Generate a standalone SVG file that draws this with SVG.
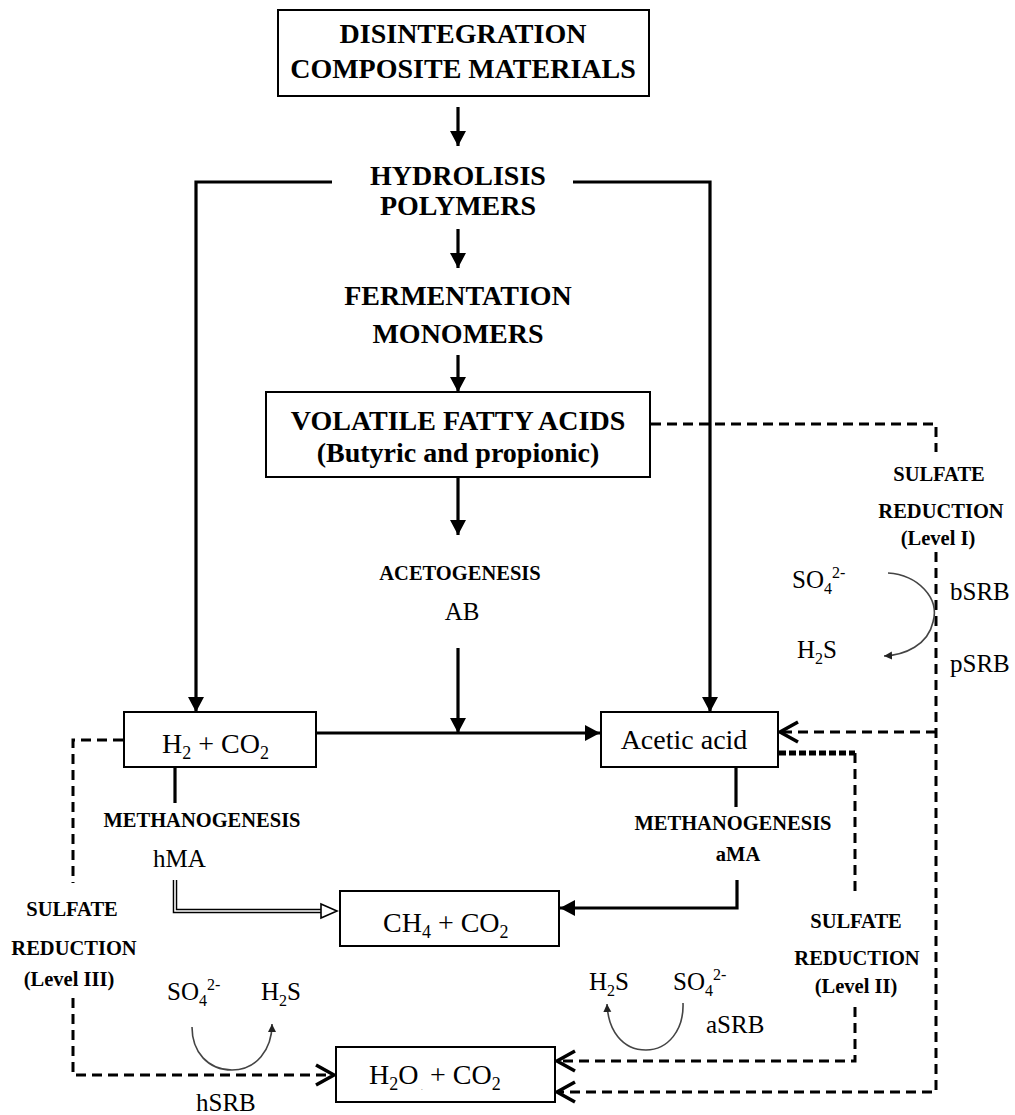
<svg xmlns="http://www.w3.org/2000/svg" width="1015" height="1115" viewBox="0 0 1015 1115">
<style>
text{font-family:"Liberation Serif","Times New Roman",serif;fill:#000}
.big{font-size:28px;font-weight:bold;text-anchor:middle}
.lab{font-size:20.5px;font-weight:bold;text-anchor:middle}
.reg{font-size:25px}
.box{fill:#fff;stroke:#000;stroke-width:2}
.solid{fill:none;stroke:#000;stroke-width:3.2}
.dash{fill:none;stroke:#000;stroke-width:3;stroke-dasharray:10 6}
.dots{fill:none;stroke:#000;stroke-width:5;stroke-dasharray:7 3}
.curve{fill:none;stroke:#444;stroke-width:1.6}
</style>
<defs>
<marker id="ah" markerUnits="userSpaceOnUse" markerWidth="16" markerHeight="16" refX="15" refY="8" orient="auto">
<path d="M0,0 L15,8 L0,16 z" fill="#000"/>
</marker>
<marker id="chev" markerUnits="userSpaceOnUse" markerWidth="24" markerHeight="26" refX="20" refY="12" orient="auto">
<path d="M2,2 L20,12 L2,22" fill="none" stroke="#000" stroke-width="3.5"/>
</marker>
<marker id="sm" markerUnits="userSpaceOnUse" markerWidth="10" markerHeight="10" refX="8" refY="5" orient="auto">
<path d="M0,1 L8,5 L0,9 z" fill="#222"/>
</marker>
</defs>

<g id="connectors">
<line class="solid" x1="458" y1="107" x2="458" y2="146" marker-end="url(#ah)"/>
<line class="solid" x1="458" y1="229" x2="458" y2="268" marker-end="url(#ah)"/>
<line class="solid" x1="458" y1="355" x2="458" y2="392" marker-end="url(#ah)"/>
<line class="solid" x1="458" y1="477" x2="458" y2="535" marker-end="url(#ah)"/>
<polyline class="solid" points="332,182 196,182 196,712" marker-end="url(#ah)"/>
<polyline class="solid" points="573,182 710,182 710,712" marker-end="url(#ah)"/>
<line class="solid" x1="317" y1="733" x2="600" y2="733" marker-start="url(#ah)" marker-end="url(#ah)"/>
<line class="solid" x1="458" y1="648" x2="458" y2="733" marker-end="url(#ah)"/>
<line class="solid" x1="175" y1="767" x2="175" y2="803" stroke-width="4"/>
<line class="solid" x1="736" y1="767" x2="736" y2="807" stroke-width="4"/>
<path d="M175,880 V911 H322" fill="none" stroke="#000" stroke-width="4.5"/>
<path d="M175,880 V911 H323" fill="none" stroke="#fff" stroke-width="1.6"/>
<polygon points="321,904 337,911 321,918" fill="#fff" stroke="#000" stroke-width="1.6"/>
<polyline class="solid" points="737,880 737,908 560,908" stroke-width="4" marker-end="url(#ah)"/>
<polyline class="dash" points="651,424 936,424 936,452"/>
<polyline class="dash" points="936,552 936,1092 557,1092" marker-end="url(#chev)"/>
<polyline class="dash" points="936,732 780,732" marker-end="url(#chev)"/>
<polyline class="dots" points="779,753 855,753"/>
<polyline class="dash" points="855,753 855,897"/>
<polyline class="dash" points="855,1007 855,1061 557,1061" marker-end="url(#chev)"/>
<polyline class="dash" points="123,740 73,740 73,883"/>
<polyline class="dash" points="73,998 73,1075 334,1075" marker-end="url(#chev)"/>
<path class="curve" d="M888,573 C918,575 940,598 933,622 C928,645 905,655 884,656" marker-end="url(#sm)"/>
<path class="curve" d="M683,1003 C684,1030 668,1050 646,1050 C622,1050 608,1030 607,1004" marker-end="url(#sm)"/>
<path class="curve" d="M192,1027 C192,1052 208,1070 232,1070 C256,1070 272,1050 272,1024" marker-end="url(#sm)"/>
</g>

<g id="n_disintegration">
<rect class="box" x="278" y="10" width="371" height="86"/>
<text class="big" x="463" y="43" font-size="27">DISINTEGRATION</text>
<text class="big" x="463" y="78" font-size="27">COMPOSITE MATERIALS</text>
</g>
<g id="n_hydrolisis">
<text class="big" x="458" y="185">HYDROLISIS</text>
<text class="big" x="458" y="215">POLYMERS</text>
</g>
<g id="n_fermentation">
<text class="big" x="458" y="305">FERMENTATION</text>
<text class="big" x="458" y="343">MONOMERS</text>
</g>
<g id="n_vfa">
<rect class="box" x="266" y="392" width="384" height="85"/>
<text class="big" x="458" y="430">VOLATILE FATTY ACIDS</text>
<text class="big" x="458" y="462">(Butyric and propionic)</text>
</g>
<g id="n_acetogenesis">
<text class="lab" x="460" y="580">ACETOGENESIS</text>
<text class="reg" x="462" y="620" text-anchor="middle">AB</text>
</g>
<g id="n_h2co2">
<rect class="box" x="124" y="712" width="192" height="55"/>
<text x="162" y="753" font-size="28">H<tspan font-size="18" dy="6">2</tspan><tspan dy="-6"> + CO</tspan><tspan font-size="18" dy="6">2</tspan></text>
</g>
<g id="n_acetic">
<rect class="box" x="601" y="712" width="177" height="55"/>
<text x="684" y="749" font-size="28" text-anchor="middle">Acetic acid</text>
</g>
<g id="n_meth_h">
<text class="lab" x="202" y="827">METHANOGENESIS</text>
<text class="reg" x="153" y="867">hMA</text>
</g>
<g id="n_meth_a">
<text class="lab" x="733" y="830">METHANOGENESIS</text>
<text class="lab" x="738" y="861">aMA</text>
</g>
<g id="n_ch4">
<rect class="box" x="340" y="891" width="219" height="55"/>
<text x="383" y="932" font-size="28">CH<tspan font-size="18" dy="6">4</tspan><tspan dy="-6"> + CO</tspan><tspan font-size="18" dy="6">2</tspan></text>
</g>
<g id="n_h2o">
<rect class="box" x="336" y="1047" width="219" height="55"/>
<text x="369" y="1084" font-size="28">H<tspan font-size="18" dy="6">2</tspan><tspan dy="-6">O</tspan><tspan font-size="9" dy="6" fill="#888"> .</tspan><tspan dy="-6"> + CO</tspan><tspan font-size="18" dy="6">2</tspan></text>
</g>
<g id="n_sr1">
<text class="lab" x="939" y="481">SULFATE</text>
<text class="lab" x="941" y="518">REDUCTION</text>
<text class="lab" x="938" y="545">(Level I)</text>
<text class="reg" x="792" y="588">SO<tspan font-size="16" dy="6">4</tspan><tspan font-size="16" dy="-16">2-</tspan></text>
<text class="reg" x="797" y="658">H<tspan font-size="16" dy="6">2</tspan><tspan dy="-6">S</tspan></text>
<text class="reg" x="950" y="600">bSRB</text>
<text class="reg" x="950" y="672">pSRB</text>
</g>
<g id="n_sr2">
<text class="lab" x="856" y="928">SULFATE</text>
<text class="lab" x="857" y="965">REDUCTION</text>
<text class="lab" x="856" y="993">(Level II)</text>
<text class="reg" x="589" y="990">H<tspan font-size="16" dy="6">2</tspan><tspan dy="-6">S</tspan></text>
<text class="reg" x="673" y="990">SO<tspan font-size="16" dy="6">4</tspan><tspan font-size="16" dy="-16">2-</tspan></text>
<text class="reg" x="706" y="1033">aSRB</text>
</g>
<g id="n_sr3">
<text class="lab" x="72" y="916">SULFATE</text>
<text class="lab" x="74" y="955">REDUCTION</text>
<text class="lab" x="69" y="986">(Level III)</text>
<text class="reg" x="167" y="1000">SO<tspan font-size="16" dy="6">4</tspan><tspan font-size="16" dy="-16">2-</tspan></text>
<text class="reg" x="261" y="1000">H<tspan font-size="16" dy="6">2</tspan><tspan dy="-6">S</tspan></text>
<text class="reg" x="196" y="1111">hSRB</text>
</g>
</svg>
